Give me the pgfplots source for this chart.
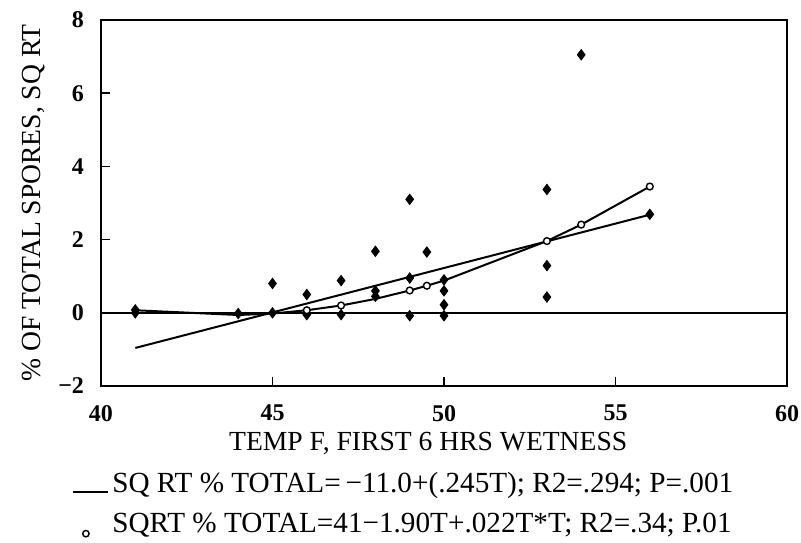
\documentclass[border=0pt]{standalone}
\usepackage{fontspec}
\setmainfont{Liberation Serif}
\usepackage{pgfplots}
\pgfplotsset{compat=1.18}
\usetikzlibrary{calc}

\begin{document}
\begin{tikzpicture}
\begin{axis}[
  scale only axis, width=343pt, height=183pt,
  xmin=40, xmax=60, ymin=-2, ymax=8,
  xtick={40,45,50,55,60},
  ytick={-2,0,2,4,6,8},
  yticklabels={−2,0,2,4,6,8},
  tick align=inside, xtick pos=bottom, ytick pos=left,
  major tick length=4.5pt,
  axis line style={line width=1pt},
  every tick/.style={line width=0.8pt, black},
  /pgf/number format/assume math mode=true,
  tick label style={font=\bfseries\fontsize{12}{13}\selectfont},
  xticklabel style={yshift=-6pt},
  yticklabel style={xshift=-5pt},
  label style={font=\fontsize{13.8}{15}\selectfont},
  xlabel={TEMP F, FIRST 6 HRS WETNESS},
  xlabel style={at={(axis description cs:0.477,0)}, anchor=center, yshift=-28.5pt},
  ylabel={\% OF TOTAL SPORES, SQ RT},
  ylabel style={at={(axis description cs:-0.099,0.5)}, anchor=center},
  legend style={draw=none, fill=none, at={(axis description cs:0.443,-0.322)},
    anchor=center, font=\fontsize{14.6}{16}\selectfont, row sep=4.5pt,
    inner sep=0pt},
  legend cell align=left,
]
% zero reference line
\addplot[line width=1pt, forget plot] coordinates {(40,0) (60,0)};
% linear fit
\addplot[line width=1pt, forget plot] coordinates {(41,-0.96) (56,2.68)};
% quadratic fit
\addplot[line width=1pt, forget plot] coordinates {
  (41,0.07) (44,-0.06) (45,-0.02) (46,0.07) (47,0.20) (48,0.38)
  (49,0.61) (49.5,0.74) (50,0.88) (53,1.96) (54,2.41) (56,3.45)};
% observations
\addplot[only marks, mark=diamond*, mark size=2.6pt, black, forget plot] coordinates {
  (41,0.08) (41,0.0) (44,-0.02) (45,0.8) (45,0.0)
  (46,0.5) (46,-0.05) (47,0.88) (47,-0.05)
  (48,1.68) (48,0.6) (48,0.45)
  (49,3.1) (49,0.95) (49,-0.08) (49.5,1.66)
  (50,0.9) (50,0.6) (50,0.22) (50,-0.08)
  (53,3.37) (53,1.29) (53,0.43) (54,7.05) (56,2.69)};
% quadratic points shown as open circles
\addplot[only marks, mark=*, mark size=1.7pt, mark options={fill=white, line width=0.7pt}, black, forget plot] coordinates {
  (46,0.07) (47,0.20) (49,0.61) (49.5,0.74) (53,1.96) (54,2.41) (56,3.45)};

\addlegendimage{legend image code/.code={\draw[line width=0.8pt] (0cm,-0.14cm) -- (0.6cm,-0.14cm);}}
\addlegendentry{SQ RT \% TOTAL=\,−11.0+(.245T); R2=.294; P=.001}
\addlegendimage{legend image code/.code={\draw[line width=0.7pt, fill=white] (0.22cm,-0.17cm) circle (1.6pt);}}
\addlegendentry{SQRT \% TOTAL=41−1.90T+.022T*T; R2=.34; P.01}
\end{axis}
\pgfresetboundingbox
\path ($(current axis.south west)+(-50.5pt,-78pt)$) rectangle ($(current axis.north east)+(7pt,10pt)$);
\end{tikzpicture}
\end{document}
